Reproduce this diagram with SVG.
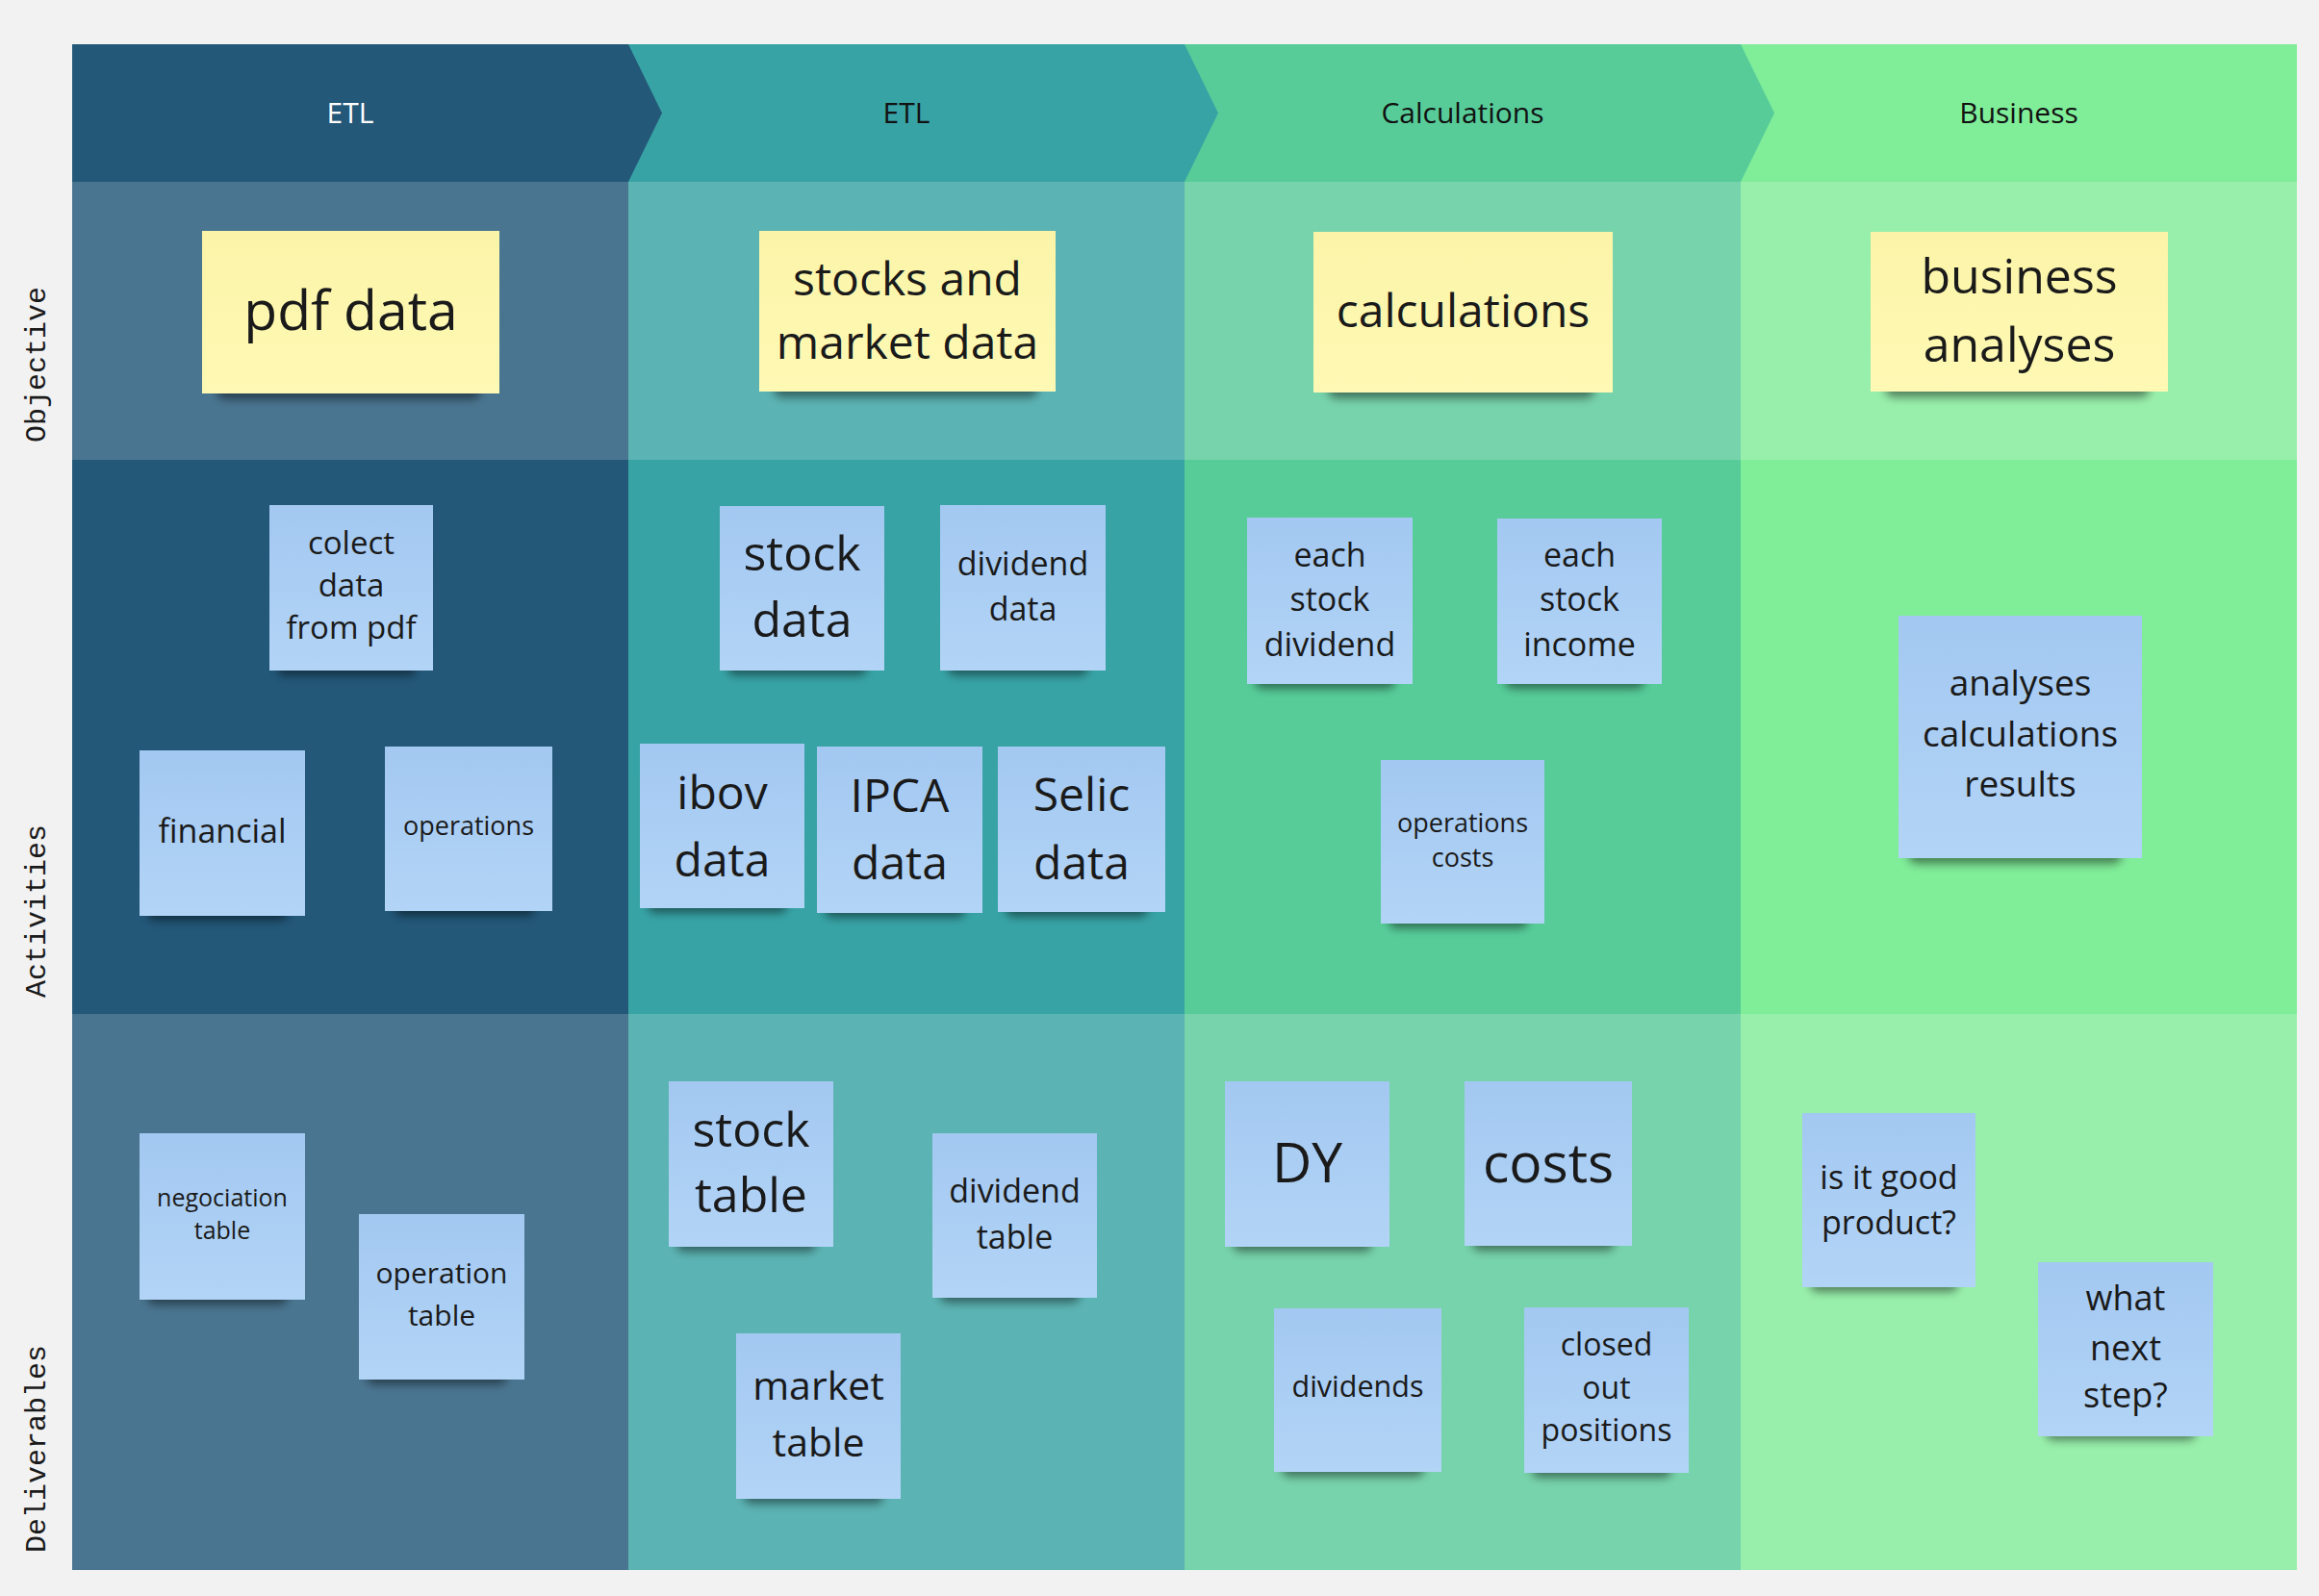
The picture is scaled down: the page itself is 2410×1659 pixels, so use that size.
<svg xmlns="http://www.w3.org/2000/svg" width="2410" height="1659" viewBox="0 0 2410 1659">
<defs>
<linearGradient id="gBlue" x1="0" y1="0" x2="0" y2="1">
<stop offset="0" stop-color="#a3c8f1"/>
<stop offset="1" stop-color="#b2d4f6"/>
</linearGradient>
<linearGradient id="gYellow" x1="0" y1="0" x2="0" y2="1">
<stop offset="0" stop-color="#fbf4a8"/>
<stop offset="1" stop-color="#fff9b5"/>
</linearGradient>
<filter id="blur" x="-20%" y="-100%" width="140%" height="300%">
<feGaussianBlur stdDeviation="5"/>
</filter>
<style>
.bg{fill:#f2f2f2}
.shadow{fill:#000;opacity:.45;filter:url(#blur)}
.blue{fill:url(#gBlue)}
.yellow{fill:url(#gYellow)}
.t{font-family:"Open Sans","Noto Sans",sans-serif;fill:#1a1a1a;text-anchor:middle}
.hd{font-family:"Open Sans","Noto Sans",sans-serif;font-size:30px;text-anchor:middle;fill:#111}
.rl{font-family:"Liberation Mono","DejaVu Sans Mono",monospace;font-size:30px;fill:#1a1a1a}
</style>
</defs>
<rect class="bg" x="0" y="0" width="2410" height="1659"/>

<g id="lanes">
<rect x="75" y="189" width="578" height="289" fill="#4a7590"/>
<rect x="75" y="478" width="578" height="576" fill="#235879"/>
<rect x="75" y="1054" width="578" height="578" fill="#4a7590"/>
<rect x="653" y="189" width="578" height="289" fill="#5cb3b3"/>
<rect x="653" y="478" width="578" height="576" fill="#38a3a5"/>
<rect x="653" y="1054" width="578" height="578" fill="#5cb3b3"/>
<rect x="1231" y="189" width="578" height="289" fill="#77d3ab"/>
<rect x="1231" y="478" width="578" height="576" fill="#57cc99"/>
<rect x="1231" y="1054" width="578" height="578" fill="#77d3ab"/>
<rect x="1809" y="189" width="578" height="289" fill="#98efab"/>
<rect x="1809" y="478" width="578" height="576" fill="#80ed99"/>
<rect x="1809" y="1054" width="578" height="578" fill="#98efab"/>
</g>

<g id="header-business">
<polygon points="1809,46 2387,46 2387,189 1809,189" fill="#80ed99"/>
<text class="hd" x="2098" y="128">Business</text>
</g>
<g id="header-calculations">
<polygon points="1231,46 1809,46 1844,117.5 1809,189 1231,189" fill="#57cc99"/>
<text class="hd" x="1520" y="128">Calculations</text>
</g>
<g id="header-etl-2">
<polygon points="653,46 1231,46 1266,117.5 1231,189 653,189" fill="#38a3a5"/>
<text class="hd" x="942" y="128">ETL</text>
</g>
<g id="header-etl-1">
<polygon points="75,46 653,46 688,117.5 653,189 75,189" fill="#235879"/>
<text class="hd" x="364" y="128" style="fill:#ffffff">ETL</text>
</g>

<g id="row-labels">
<text class="rl" transform="translate(47,460) rotate(-90)">Objective</text>
<text class="rl" transform="translate(47,1037) rotate(-90)">Activities</text>
<text class="rl" transform="translate(47,1614) rotate(-90)">Deliverables</text>
</g>

<!-- Objective row -->
<g id="sticky-pdf-data">
<rect class="shadow" x="225" y="397" width="275" height="18" rx="9"/>
<rect class="yellow" x="210" y="240" width="309" height="169"/>
<text class="t" x="364.5" y="343" font-size="57">pdf data</text>
</g>
<g id="sticky-stocks-market-data">
<rect class="shadow" x="804" y="395" width="275" height="18" rx="9"/>
<rect class="yellow" x="789" y="240" width="308" height="167"/>
<text class="t" x="943" font-size="48"><tspan x="943" y="307">stocks and</tspan><tspan x="943" y="373">market data</tspan></text>
</g>
<g id="sticky-calculations">
<rect class="shadow" x="1380" y="396" width="277" height="18" rx="9"/>
<rect class="yellow" x="1365" y="241" width="311" height="167"/>
<text class="t" x="1520.5" y="340" font-size="48">calculations</text>
</g>
<g id="sticky-business-analyses">
<rect class="shadow" x="1959" y="395" width="275" height="18" rx="9"/>
<rect class="yellow" x="1944" y="241" width="309" height="166"/>
<text class="t" font-size="50"><tspan x="2098.5" y="305">business</tspan><tspan x="2098.5" y="376">analyses</tspan></text>
</g>

<!-- Activities row -->
<g id="sticky-colect-data">
<rect class="shadow" x="288" y="686" width="145" height="16" rx="8"/>
<rect class="blue" x="280" y="525" width="170" height="172"/>
<text class="t" font-size="33"><tspan x="365" y="576">colect</tspan><tspan x="365" y="620">data</tspan><tspan x="365" y="664">from pdf</tspan></text>
</g>
<g id="sticky-financial">
<rect class="shadow" x="153" y="941" width="146" height="16" rx="8"/>
<rect class="blue" x="145" y="780" width="172" height="172"/>
<text class="t" x="231" y="876" font-size="34">financial</text>
</g>
<g id="sticky-operations">
<rect class="shadow" x="410" y="936" width="146" height="16" rx="8"/>
<rect class="blue" x="400" y="776" width="174" height="171"/>
<text class="t" x="487" y="868" font-size="27">operations</text>
</g>
<g id="sticky-stock-data">
<rect class="shadow" x="756" y="686" width="145" height="16" rx="8"/>
<rect class="blue" x="748" y="526" width="171" height="171"/>
<text class="t" font-size="50"><tspan x="833.5" y="593">stock</tspan><tspan x="833.5" y="662">data</tspan></text>
</g>
<g id="sticky-dividend-data">
<rect class="shadow" x="985" y="686" width="146" height="16" rx="8"/>
<rect class="blue" x="977" y="525" width="172" height="172"/>
<text class="t" font-size="34"><tspan x="1063" y="598">dividend</tspan><tspan x="1063" y="645">data</tspan></text>
</g>
<g id="sticky-ibov-data">
<rect class="shadow" x="673" y="933" width="145" height="16" rx="8"/>
<rect class="blue" x="665" y="773" width="171" height="171"/>
<text class="t" font-size="48"><tspan x="750.5" y="841">ibov</tspan><tspan x="750.5" y="911">data</tspan></text>
</g>
<g id="sticky-ipca-data">
<rect class="shadow" x="857" y="938" width="146" height="16" rx="8"/>
<rect class="blue" x="849" y="776" width="172" height="173"/>
<text class="t" font-size="48"><tspan x="935" y="844">IPCA</tspan><tspan x="935" y="914">data</tspan></text>
</g>
<g id="sticky-selic-data">
<rect class="shadow" x="1045" y="937" width="148" height="16" rx="8"/>
<rect class="blue" x="1037" y="776" width="174" height="172"/>
<text class="t" font-size="48"><tspan x="1124" y="843">Selic</tspan><tspan x="1124" y="914">data</tspan></text>
</g>
<g id="sticky-each-stock-dividend">
<rect class="shadow" x="1304" y="700" width="146" height="16" rx="8"/>
<rect class="blue" x="1296" y="538" width="172" height="173"/>
<text class="t" font-size="34"><tspan x="1382" y="589">each</tspan><tspan x="1382" y="635">stock</tspan><tspan x="1382" y="682">dividend</tspan></text>
</g>
<g id="sticky-each-stock-income">
<rect class="shadow" x="1564" y="700" width="145" height="16" rx="8"/>
<rect class="blue" x="1556" y="539" width="171" height="172"/>
<text class="t" font-size="34"><tspan x="1641.5" y="589">each</tspan><tspan x="1641.5" y="635">stock</tspan><tspan x="1641.5" y="682">income</tspan></text>
</g>
<g id="sticky-operations-costs">
<rect class="shadow" x="1443" y="949" width="145" height="16" rx="8"/>
<rect class="blue" x="1435" y="790" width="170" height="170"/>
<text class="t" font-size="27"><tspan x="1520" y="865">operations</tspan><tspan x="1520" y="901">costs</tspan></text>
</g>
<g id="sticky-analyses-results">
<rect class="shadow" x="1983" y="880" width="222" height="18" rx="9"/>
<rect class="blue" x="1973" y="640" width="253" height="252"/>
<text class="t" font-size="37"><tspan x="2099.5" y="723">analyses</tspan><tspan x="2099.5" y="776">calculations</tspan><tspan x="2099.5" y="828">results</tspan></text>
</g>

<!-- Deliverables row -->
<g id="sticky-negociation-table">
<rect class="shadow" x="153" y="1340" width="146" height="16" rx="8"/>
<rect class="blue" x="145" y="1178" width="172" height="173"/>
<text class="t" font-size="25"><tspan x="231" y="1254">negociation</tspan><tspan x="231" y="1288">table</tspan></text>
</g>
<g id="sticky-operation-table">
<rect class="shadow" x="381" y="1423" width="146" height="16" rx="8"/>
<rect class="blue" x="373" y="1262" width="172" height="172"/>
<text class="t" font-size="30"><tspan x="459" y="1334">operation</tspan><tspan x="459" y="1378">table</tspan></text>
</g>
<g id="sticky-stock-table">
<rect class="shadow" x="703" y="1285" width="145" height="16" rx="8"/>
<rect class="blue" x="695" y="1124" width="171" height="172"/>
<text class="t" font-size="50"><tspan x="780.5" y="1192">stock</tspan><tspan x="780.5" y="1260">table</tspan></text>
</g>
<g id="sticky-dividend-table">
<rect class="shadow" x="977" y="1338" width="145" height="16" rx="8"/>
<rect class="blue" x="969" y="1178" width="171" height="171"/>
<text class="t" font-size="34"><tspan x="1054.5" y="1250">dividend</tspan><tspan x="1054.5" y="1298">table</tspan></text>
</g>
<g id="sticky-market-table">
<rect class="shadow" x="773" y="1547" width="145" height="16" rx="8"/>
<rect class="blue" x="765" y="1386" width="171" height="172"/>
<text class="t" font-size="41"><tspan x="850.5" y="1455">market</tspan><tspan x="850.5" y="1514">table</tspan></text>
</g>
<g id="sticky-dy">
<rect class="shadow" x="1281" y="1285" width="145" height="16" rx="8"/>
<rect class="blue" x="1273" y="1124" width="171" height="172"/>
<text class="t" x="1358.5" y="1229" font-size="57">DY</text>
</g>
<g id="sticky-costs">
<rect class="shadow" x="1530" y="1284" width="148" height="16" rx="8"/>
<rect class="blue" x="1522" y="1124" width="174" height="171"/>
<text class="t" x="1609" y="1229" font-size="57">costs</text>
</g>
<g id="sticky-dividends">
<rect class="shadow" x="1332" y="1519" width="148" height="16" rx="8"/>
<rect class="blue" x="1324" y="1360" width="174" height="170"/>
<text class="t" x="1411" y="1452" font-size="30.5">dividends</text>
</g>
<g id="sticky-closed-out-positions">
<rect class="shadow" x="1592" y="1520" width="145" height="16" rx="8"/>
<rect class="blue" x="1584" y="1359" width="171" height="172"/>
<text class="t" font-size="32"><tspan x="1669.5" y="1409">closed</tspan><tspan x="1669.5" y="1454">out</tspan><tspan x="1669.5" y="1498">positions</tspan></text>
</g>
<g id="sticky-is-it-good-product">
<rect class="shadow" x="1881" y="1327" width="154" height="16" rx="8"/>
<rect class="blue" x="1873" y="1157" width="180" height="181"/>
<text class="t" font-size="34"><tspan x="1963" y="1236">is it good</tspan><tspan x="1963" y="1283">product?</tspan></text>
</g>
<g id="sticky-what-next-step">
<rect class="shadow" x="2126" y="1481" width="156" height="16" rx="8"/>
<rect class="blue" x="2118" y="1312" width="182" height="181"/>
<text class="t" font-size="36"><tspan x="2209" y="1362">what</tspan><tspan x="2209" y="1414">next</tspan><tspan x="2209" y="1463">step?</tspan></text>
</g>
</svg>
